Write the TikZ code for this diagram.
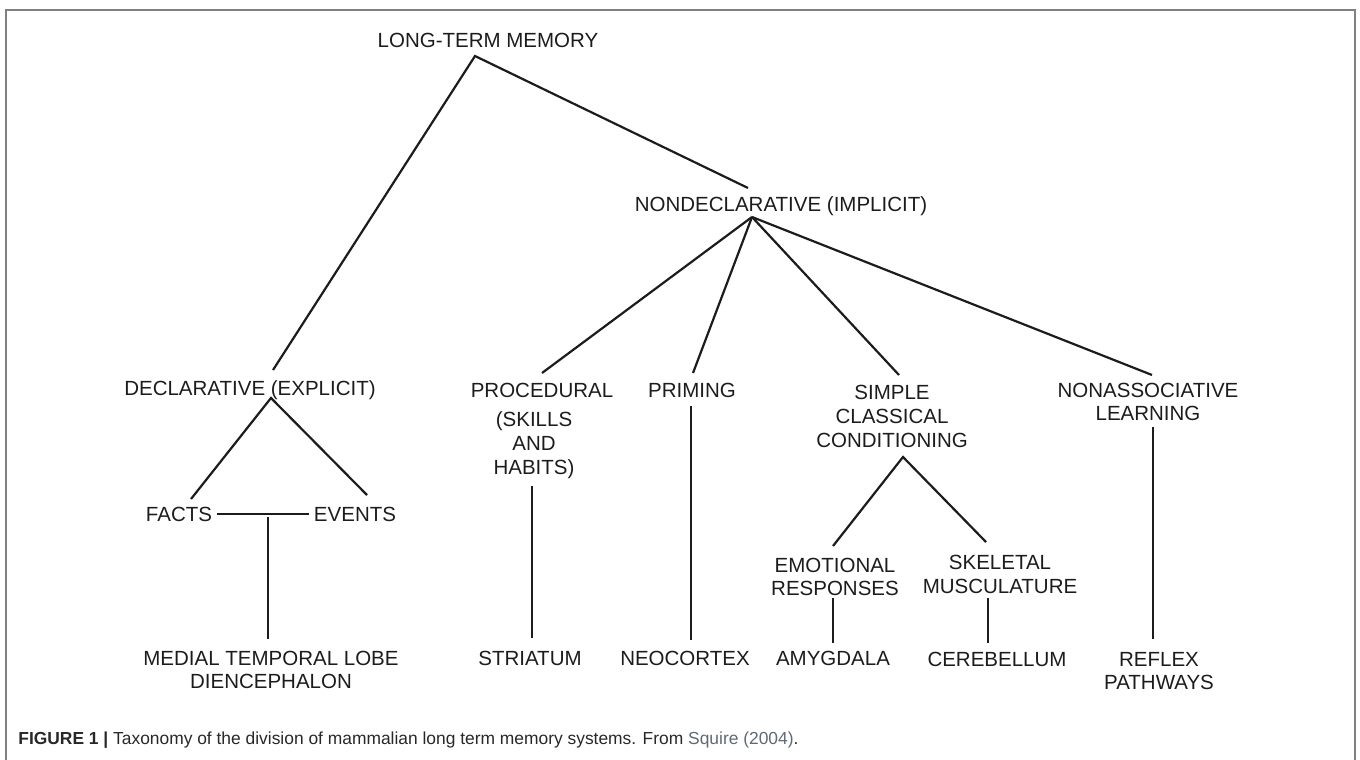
\documentclass[tikz,border=0pt]{standalone}
\usepackage{fontspec}
\setmainfont{Liberation Sans}
\usetikzlibrary{calc}
\definecolor{framegray}{RGB}{128,128,128}
\definecolor{inkc}{RGB}{28,28,28}
\definecolor{captext}{RGB}{40,40,40}
\definecolor{refc}{RGB}{95,105,115}
\begin{document}
\begin{tikzpicture}[x=0.5pt,y=-0.5pt,
  lbl/.style={font=\fontsize{10.25}{12}\selectfont, anchor=base, inner sep=0pt, text=inkc},
  conn/.style={line width=1.1pt, draw=inkc},
  framestyle/.style={line width=1.1pt, draw=framegray}]
\useasboundingbox (0,0) rectangle (1360,760);
% frame
\coordinate (fbl) at (6,762);
\coordinate (ftl) at (6,10);
\coordinate (ftr) at (1355,10);
\coordinate (fbr) at (1355,762);
\draw[framestyle] (fbl) -- (ftl) -- (ftr) -- (fbr);

% labels (baseline = centre + 7)
\node[lbl] (ltm) at (488,47) {LONG-TERM MEMORY};
\node[lbl] (nondecl) at (781,211) {NONDECLARATIVE (IMPLICIT)};
\node[lbl] (decl) at (250,395) {DECLARATIVE (EXPLICIT)};
\node[lbl] (proc) at (542,397) {PROCEDURAL};
\node[lbl] (skills) at (534,426) {(SKILLS};
\node[lbl] (and) at (534,450) {AND};
\node[lbl] (habits) at (534,474) {HABITS)};
\node[lbl] (priming) at (692,397) {PRIMING};
\node[lbl] (simple) at (892,399) {SIMPLE};
\node[lbl] (classical) at (892,423) {CLASSICAL};
\node[lbl] (conditioning) at (892,447) {CONDITIONING};
\node[lbl] (nonassoc) at (1148,397) {NONASSOCIATIVE};
\node[lbl] (learning) at (1148,420) {LEARNING};
\node[lbl] (facts) at (179,521) {FACTS};
\node[lbl] (events) at (355,521) {EVENTS};
\node[lbl] (emotional) at (835,572) {EMOTIONAL};
\node[lbl] (responses) at (835,595) {RESPONSES};
\node[lbl] (skeletal) at (1000,569) {SKELETAL};
\node[lbl] (muscul) at (1000,593) {MUSCULATURE};
\node[lbl] (medial) at (271,665) {MEDIAL TEMPORAL LOBE};
\node[lbl] (dienc) at (271,688) {DIENCEPHALON};
\node[lbl] (striatum) at (530,665) {STRIATUM};
\node[lbl] (neocortex) at (685,665) {NEOCORTEX};
\node[lbl] (amygdala) at (833,665) {AMYGDALA};
\node[lbl] (cerebellum) at (997,666) {CEREBELLUM};
\node[lbl] (reflex) at (1159,666) {REFLEX};
\node[lbl] (pathways) at (1159,689) {PATHWAYS};

% connector end points
\coordinate (ltm-b) at (475,56);
\coordinate (decl-t) at (273,370);
\coordinate (nondecl-t) at (748,188);
\coordinate (nondecl-b) at (752,217);
\coordinate (proc-t) at (542,373);
\coordinate (priming-t) at (693,373);
\coordinate (simple-t) at (899,375);
\coordinate (nonassoc-t) at (1152,375);
\coordinate (decl-b) at (271,398);
\coordinate (facts-t) at (191,499);
\coordinate (events-t) at (367,495);
\coordinate (facts-r) at (217,514);
\coordinate (events-l) at (309,514);
\coordinate (fe-mid) at (268,517);
\coordinate (medial-t) at (268,639);
\coordinate (habits-b) at (532,486);
\coordinate (striatum-t) at (532,638);
\coordinate (priming-b) at (691,406);
\coordinate (neocortex-t) at (691,640);
\coordinate (cond-b) at (903,457);
\coordinate (emotional-t) at (833,546);
\coordinate (skeletal-t) at (986,542);
\coordinate (responses-b) at (833,598);
\coordinate (amygdala-t) at (833,643);
\coordinate (muscul-b) at (988,598);
\coordinate (cerebellum-t) at (988,643);
\coordinate (learning-b) at (1153,427);
\coordinate (reflex-t) at (1153,639);

% connectors
\draw[conn] (decl-t) -- (ltm-b) -- (nondecl-t);
\draw[conn] (nondecl-b) -- (proc-t);
\draw[conn] (nondecl-b) -- (priming-t);
\draw[conn] (nondecl-b) -- (simple-t);
\draw[conn] (nondecl-b) -- (nonassoc-t);
\draw[conn] (facts-t) -- (decl-b) -- (events-t);
\draw[conn] (facts-r) -- (events-l);
\draw[conn] (fe-mid) -- (medial-t);
\draw[conn] (habits-b) -- (striatum-t);
\draw[conn] (priming-b) -- (neocortex-t);
\draw[conn] (emotional-t) -- (cond-b) -- (skeletal-t);
\draw[conn] (responses-b) -- (amygdala-t);
\draw[conn] (muscul-b) -- (cerebellum-t);
\draw[conn] (learning-b) -- (reflex-t);

% caption
\node[anchor=base west, inner sep=0pt, font=\fontsize{8.7}{10}\selectfont, text=captext] (caption) at (18,744)
  {\textbf{FIGURE 1 |} Taxonomy of the division of mammalian long term memory systems. From \textcolor{refc}{Squire (2004)}.};
\end{tikzpicture}
\end{document}
